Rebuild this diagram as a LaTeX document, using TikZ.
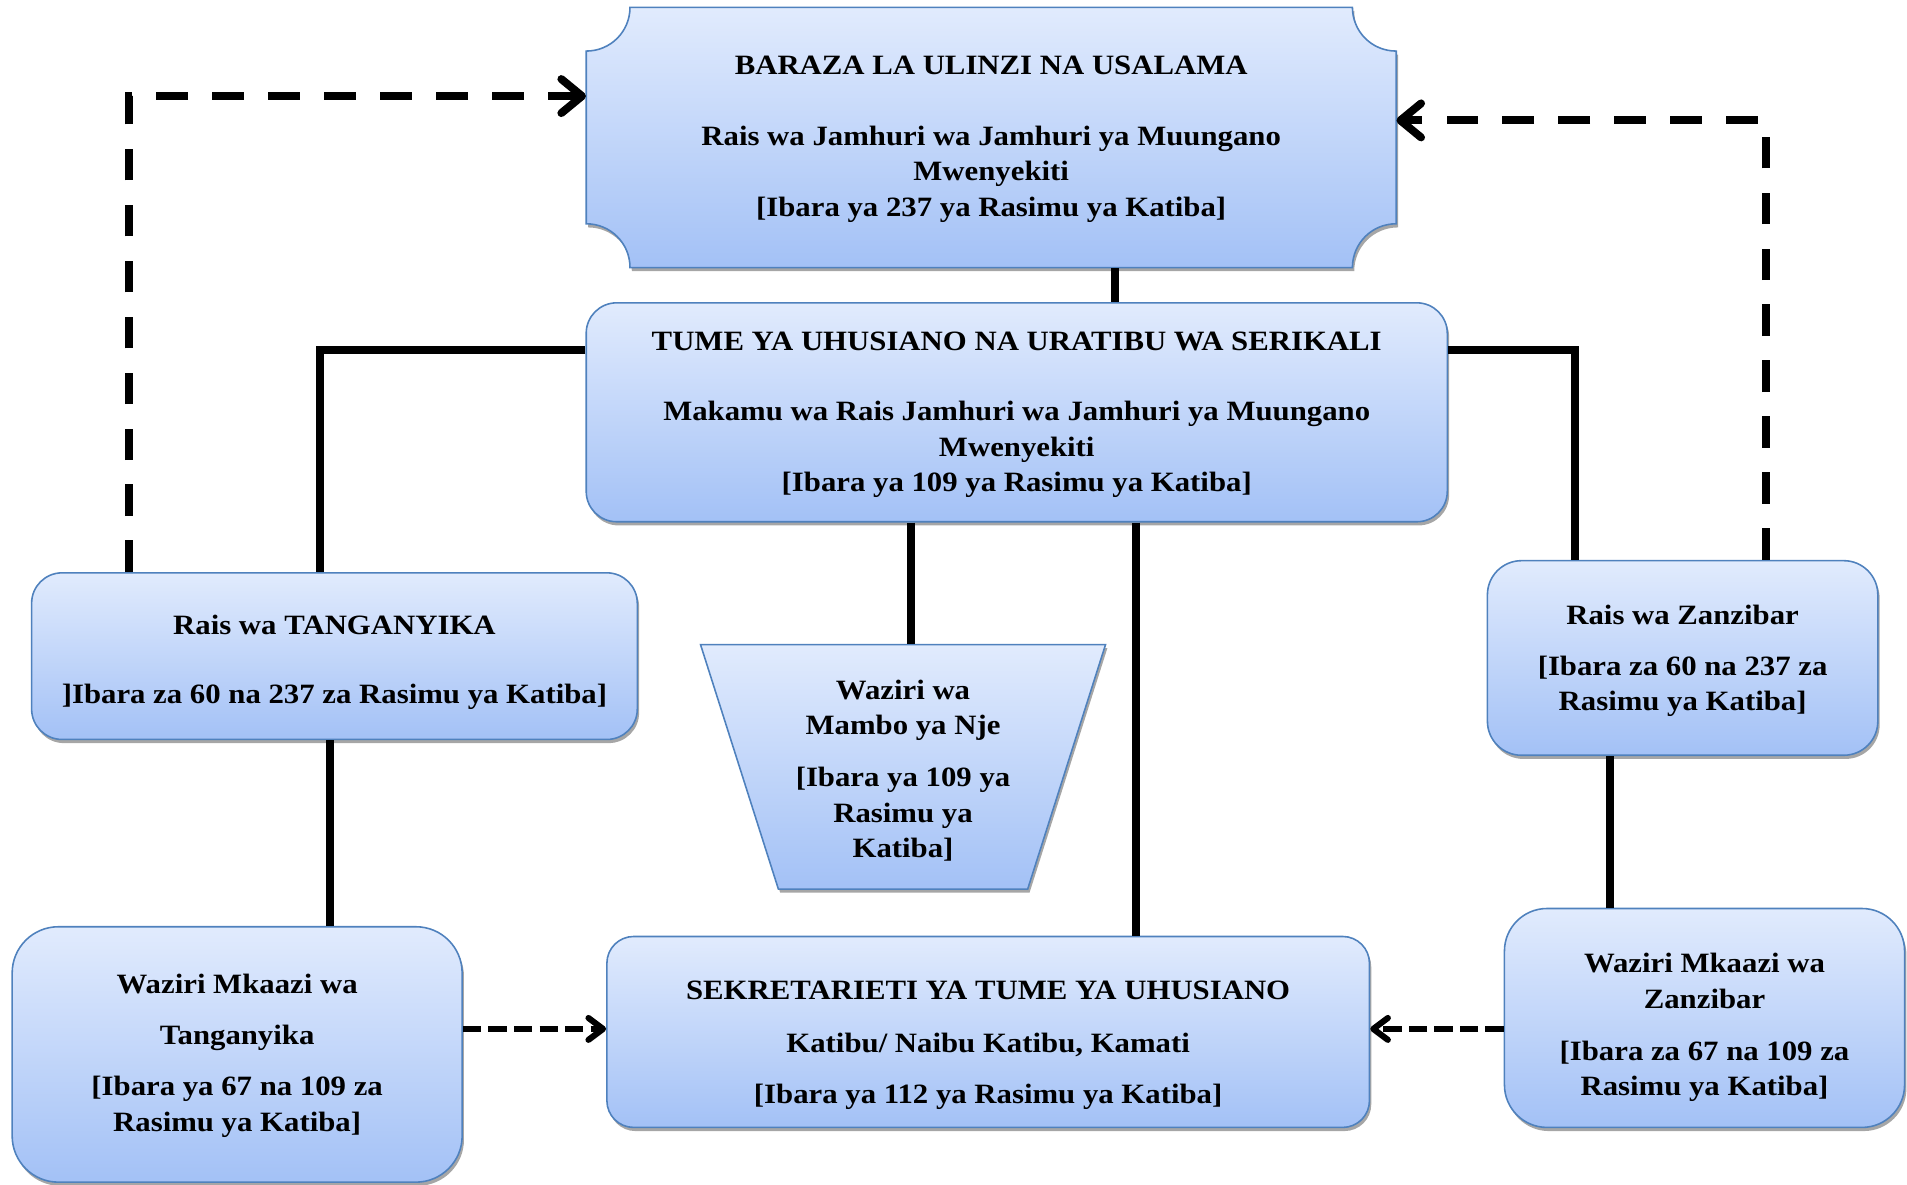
\documentclass[tikz,border=0pt]{standalone}
\usepackage{fontspec}
\setmainfont{Liberation Serif}[FakeStretch=1.1]
\usetikzlibrary{arrows.meta,shadows}
\definecolor{boxtop}{HTML}{E1EBFD}
\definecolor{boxbot}{HTML}{A3C1F6}
\definecolor{boxline}{HTML}{4F81BD}
\tikzset{
  shade box/.style={top color=boxtop, bottom color=boxbot, draw=boxline, line width=1.3pt,
    drop shadow={shadow xshift=1.5pt, shadow yshift=-3pt, fill=black, opacity=0.35}},
  rbox/.style={shade box, rectangle, inner sep=0pt},
  txt/.style={inner sep=0pt, align=center},
  boxfont/.style={font=\fontsize{23}{29}\selectfont\bfseries},
  link/.style={line width=6.5pt},
  bigdash/.style={line width=6.5pt, dash pattern=on 26pt off 20pt,
    -{Straight Barb[length=17pt,width=28pt,round]}},
  smalldash/.style={line width=5pt, dash pattern=on 15pt off 6pt,
    -{Straight Barb[length=12pt,width=18pt,round]}}
}
\begin{document}
\begin{tikzpicture}[x=1pt,y=-1pt,boxfont]
\useasboundingbox (0,0) rectangle (1568,974);
% plaque shape of the top box
\path[shade box] (518,6) -- (1112,6)
  .. controls (1112,26) and (1128,42) .. (1148,42) -- (1148,184)
  .. controls (1128,184) and (1112,200) .. (1112,220) -- (518,220)
  .. controls (518,200) and (502,184) .. (482,184) -- (482,42)
  .. controls (502,42) and (518,26) .. (518,6) -- cycle;
\node[txt, minimum width=666pt, minimum height=214pt] (baraza) at (815,113) {};
\node[txt] (baraza-t) at ([yshift=-1.5pt]baraza.center)
  {BARAZA LA ULINZI NA USALAMA\\[29pt]
   Rais wa Jamhuri wa Jamhuri ya Muungano\\
   Mwenyekiti\\
   {[}Ibara ya 237 ya Rasimu ya Katiba{]}};
\node[rbox, rounded corners=25pt, minimum width=708pt, minimum height=180pt] (tume) at (836,339) {};
\node[txt] (tume-t) at ([yshift=-2pt]tume.center)
  {TUME YA UHUSIANO NA URATIBU WA SERIKALI\\[29pt]
   Makamu wa Rais Jamhuri wa Jamhuri ya Muungano\\
   Mwenyekiti\\
   {[}Ibara ya 109 ya Rasimu ya Katiba{]}};
\node[rbox, rounded corners=25pt, minimum width=498pt, minimum height=137pt] (rtang) at (275,539.5) {};
\node[txt] (rtang-t) at ([yshift=-5pt]rtang.center)
  {Rais wa TANGANYIKA\\[28pt]
   {]}Ibara za 60 na 237 za Rasimu ya Katiba{]}};
% trapezoid
\path[shade box] (576,530) -- (909,530) -- (845,731) -- (640,731) -- cycle;
\node[txt, minimum width=333pt, minimum height=201pt] (nje) at (742.5,630.5) {};
\node[txt] (nje-t) at ([yshift=-3pt]nje.center)
  {Waziri wa\\
   Mambo ya Nje\\[14pt]
   {[}Ibara ya 109 ya\\
   Rasimu ya\\
   Katiba{]}};
\node[rbox, rounded corners=28pt, minimum width=321pt, minimum height=160pt] (rzan) at (1383.5,541) {};
\node[txt] (rzan-t) at ([yshift=-2.5pt]rzan.center)
  {Rais wa Zanzibar\\[13pt]
   {[}Ibara za 60 na 237 za\\
   Rasimu ya Katiba{]}};
\node[rbox, rounded corners=38pt, minimum width=370pt, minimum height=210pt] (wtang) at (195,867) {};
\node[txt] (wtang-t) at ([yshift=-1pt]wtang.center)
  {Waziri Mkaazi wa\\[13pt]
   Tanganyika\\[13pt]
   {[}Ibara ya 67 na 109 za\\
   Rasimu ya Katiba{]}};
\node[rbox, rounded corners=22pt, minimum width=627pt, minimum height=157pt] (sek) at (812.5,848.5) {};
\node[txt] (sek-t) at ([yshift=-11pt]sek.center)
  {SEKRETARIETI YA TUME YA UHUSIANO\\[14pt]
   Katibu/ Naibu Katibu, Kamati\\[13pt]
   {[}Ibara ya 112 ya Rasimu ya Katiba{]}};
\node[rbox, rounded corners=35pt, minimum width=329pt, minimum height=180pt] (wzan) at (1401.5,837) {};
\node[txt] (wzan-t) at ([yshift=-8pt]wzan.center)
  {Waziri Mkaazi wa\\
   Zanzibar\\[14pt]
   {[}Ibara za 67 na 109 za\\
   Rasimu ya Katiba{]}};
% solid connectors
\draw[link] (917,0 |- baraza.south) -- (917,0 |- tume.north);
\draw[link] (0,288 -| tume.west) -| (263,0 |- rtang.north);
\draw[link] (0,288 -| tume.east) -| (1295,0 |- rzan.north);
\draw[link] (749,0 |- tume.south) -- (749,0 |- nje.north);
\draw[link] (934,0 |- tume.south) -- (934,0 |- sek.north);
\draw[link] (271,0 |- rtang.south) -- (271,0 |- wtang.north);
\draw[link] (1324,0 |- rzan.south) -- (1324,0 |- wzan.north);
% dashed arrows
\draw[bigdash] (106,0 |- rtang.north) |- (0,79 -| baraza.west);
\draw[bigdash] (1452,0 |- rzan.north) |- (0,99 -| baraza.east);
\draw[smalldash] (0,846 -| wtang.east) -- (0,846 -| sek.west);
\draw[smalldash] (0,846 -| wzan.west) -- (0,846 -| sek.east);
\end{tikzpicture}
\end{document}
